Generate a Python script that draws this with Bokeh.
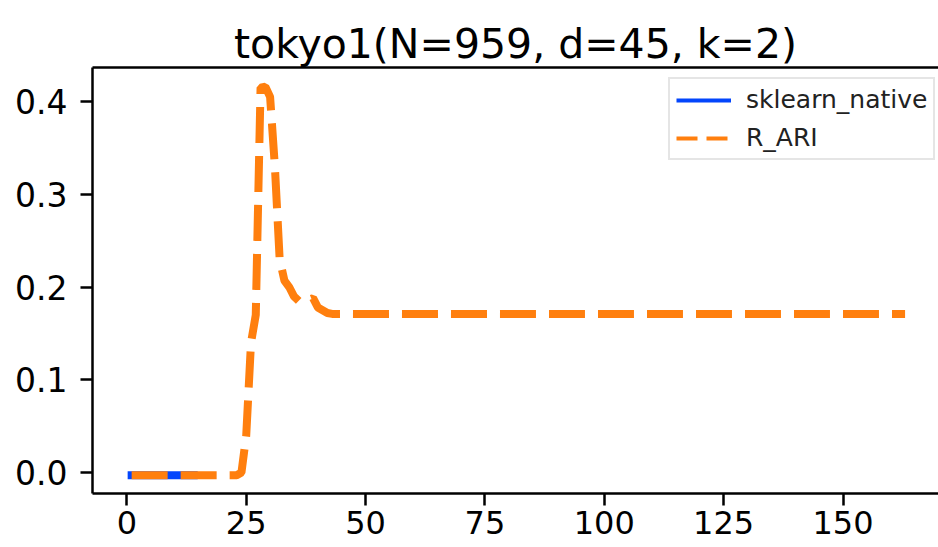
from bokeh.plotting import figure
from bokeh.models import (Range1d, FixedTicker, PrintfTickFormatter, Legend,
                          LegendItem, LinearAxis)
from bokeh.embed import file_html
from bokeh.resources import INLINE

# ---- data ----
title_text = "tokyo1(N=959, d=45, k=2)"
x_ticks = [0, 25, 50, 75, 100, 125, 150]
y_ticks = [0.0, 0.1, 0.2, 0.3, 0.4]

sk_label = "sklearn_native"
sk_x = [1, 14]
sk_y = [-0.003, -0.003]

r_label = "R_ARI"
r_x = [1, 23, 24, 25, 26, 27, 28, 29, 30, 31, 32, 33, 34, 35, 36, 37, 38,
       39, 40, 41, 42, 43, 163]
r_y = [-0.003, -0.003, 0.0, 0.04, 0.14, 0.17, 0.415, 0.416, 0.405, 0.33,
       0.23, 0.207, 0.2, 0.19, 0.185, 0.185, 0.186, 0.188, 0.178, 0.175,
       0.172, 0.171, 0.171]

BLUE = "#0345fc"
ORANGE = "#ff7f0e"
FONT = "DejaVu Sans"
NAN = float("nan")

p = figure(width=938, height=547,
           x_range=Range1d(-7.2, 170.0), y_range=Range1d(-0.0226, 0.4367),
           output_backend="svg", toolbar_location=None,
           min_border_left=92, min_border_right=0,
           min_border_top=67, min_border_bottom=54,
           title=title_text)

p.title.text_font = FONT
p.title.text_font_size = "41px"
p.title.text_font_style = "normal"
p.title.text_color = "black"
p.title.align = "center"
p.title.standoff = 0

p.grid.grid_line_color = None
p.outline_line_color = None
p.background_fill_color = "white"

for ax in (p.xaxis, p.yaxis):
    ax.axis_line_width = 2.5
    ax.axis_line_color = "black"
    ax.major_tick_line_width = 2.5
    ax.major_tick_line_color = "black"
    ax.major_tick_out = 12
    ax.major_tick_in = 0
    ax.minor_tick_line_color = None
    ax.major_label_text_font = FONT
    ax.major_label_text_font_size = "32px"
    ax.major_label_text_color = "black"

p.xaxis.ticker = FixedTicker(ticks=x_ticks)
p.yaxis.ticker = FixedTicker(ticks=y_ticks)
p.yaxis.formatter = PrintfTickFormatter(format="%.1f")
p.yaxis.major_label_text_font_size = "33px"
p.xaxis.major_label_standoff = 5
p.yaxis.major_label_standoff = 13

# top spine
top = LinearAxis(ticker=FixedTicker(ticks=[]), major_label_text_font_size="0px",
                 major_tick_out=0, major_tick_in=0, minor_tick_out=0,
                 minor_tick_in=0, major_label_standoff=0,
                 axis_line_width=2.5, axis_line_color="black")
p.add_layout(top, "above")

p.line(sk_x, sk_y, line_color=BLUE, line_width=8, line_cap="square")
p.line(r_x, r_y, line_color=ORANGE, line_width=8, line_dash="36 13")

# legend proxies (thinner lines, as in the reference legend)
lb = p.line([NAN], [NAN], line_color=BLUE, line_width=4)
lo = p.line([NAN], [NAN], line_color=ORANGE, line_width=4, line_dash="21 9")

legend = Legend(items=[LegendItem(label=sk_label, renderers=[lb]),
                       LegendItem(label=r_label, renderers=[lo])],
                location=(576, 333),
                label_text_font=FONT, label_text_font_size="25px",
                label_text_color="#222222",
                glyph_width=55, glyph_height=20, label_standoff=15,
                padding=6, spacing=9, margin=0,
                border_line_color="#cccccc", border_line_width=2,
                background_fill_alpha=0.8)
p.add_layout(legend)

open("out.html", "w").write(file_html(p, INLINE))
